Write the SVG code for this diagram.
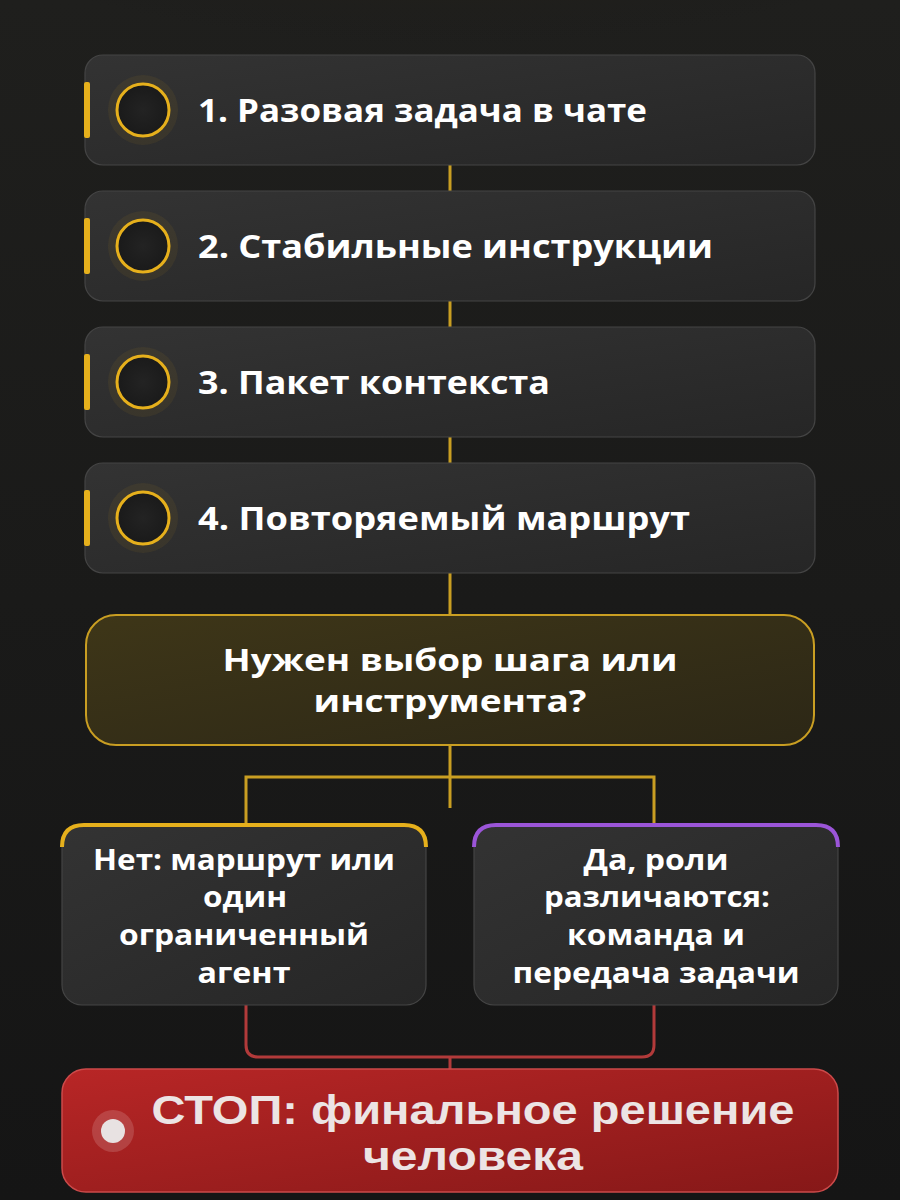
<svg xmlns="http://www.w3.org/2000/svg" width="900" height="1200" viewBox="0 0 900 1200">
<defs>
<radialGradient id="bgGlow" cx="0.5" cy="0" r="0.6">
<stop offset="0" stop-color="#3a3418"/>
<stop offset="0.6" stop-color="#2a2519"/>
<stop offset="1" stop-color="#1a1a1a" stop-opacity="0"/>
</radialGradient>
<linearGradient id="bgBase" x1="0" y1="0" x2="0" y2="1">
<stop offset="0" stop-color="#1f1f1d"/>
<stop offset="1" stop-color="#151515"/>
</linearGradient>
<linearGradient id="cardFill" x1="0" y1="0" x2="1" y2="1">
<stop offset="0" stop-color="#333333"/>
<stop offset="1" stop-color="#262626"/>
</linearGradient>
<linearGradient id="decFill" x1="0" y1="0" x2="1" y2="1">
<stop offset="0" stop-color="#3e3618"/>
<stop offset="1" stop-color="#2c2716"/>
</linearGradient>
<linearGradient id="stopFill" x1="0" y1="0" x2="1" y2="1">
<stop offset="0" stop-color="#b82626"/>
<stop offset="1" stop-color="#861818"/>
</linearGradient>
<radialGradient id="circFill" cx="0.5" cy="0.5" r="0.5">
<stop offset="0" stop-color="#232323"/>
<stop offset="1" stop-color="#1a1a1a"/>
</radialGradient>
</defs>
<style>
.card{fill:url(#cardFill);stroke:#444444;stroke-width:1.2}
.bar{fill:#e6b01c}
.ring{fill:url(#circFill);stroke:#e6b01c;stroke-width:3}
.halo{fill:#e6b01c;opacity:0.07}
.t{font-family:"Open Sans","Noto Sans",sans-serif;font-weight:700;fill:#ffffff}
.step{font-size:33px}
.dec{font-size:30px;text-anchor:middle}
.sub{font-size:28px;text-anchor:middle}
.stopt{font-family:"Liberation Sans","Noto Sans",sans-serif;font-size:40px;text-anchor:middle;fill:#ece4e4}
.cy{fill:none;stroke:#c99e22;stroke-width:3}
.cr{fill:none;stroke:#b23a3a;stroke-width:3}
</style>
<rect width="900" height="1200" fill="url(#bgBase)"/>
<ellipse cx="450" cy="0" rx="560" ry="230" fill="url(#bgGlow)" opacity="0.9"/>

<g id="connectors">
<line class="cy" x1="450" y1="165" x2="450" y2="191"/>
<line class="cy" x1="450" y1="301" x2="450" y2="327"/>
<line class="cy" x1="450" y1="437" x2="450" y2="463"/>
<line class="cy" x1="450" y1="573" x2="450" y2="614"/>
<line class="cy" x1="450" y1="745" x2="450" y2="808"/>
<path class="cy" d="M246 826 V777 H654 V826"/>
<path class="cr" d="M246 1005 V1045 Q246 1057 258 1057 H642 Q654 1057 654 1045 V1005"/>
<line class="cr" x1="450" y1="1057" x2="450" y2="1070"/>
</g>

<g id="step1">
<rect class="card" x="85" y="55" width="730" height="110" rx="18"/>
<rect class="bar" x="84" y="82" width="6" height="56" rx="2"/>
<circle class="halo" cx="143" cy="110" r="35"/>
<circle class="ring" cx="143" cy="110" r="26"/>
<text class="t step" x="198" y="122" textLength="449" lengthAdjust="spacingAndGlyphs">1. Разовая задача в чате</text>
</g>
<g id="step2">
<rect class="card" x="85" y="191" width="730" height="110" rx="18"/>
<rect class="bar" x="84" y="218" width="6" height="56" rx="2"/>
<circle class="halo" cx="143" cy="246" r="35"/>
<circle class="ring" cx="143" cy="246" r="26"/>
<text class="t step" x="198" y="258" textLength="515" lengthAdjust="spacingAndGlyphs">2. Стабильные инструкции</text>
</g>
<g id="step3">
<rect class="card" x="85" y="327" width="730" height="110" rx="18"/>
<rect class="bar" x="84" y="354" width="6" height="56" rx="2"/>
<circle class="halo" cx="143" cy="382" r="35"/>
<circle class="ring" cx="143" cy="382" r="26"/>
<text class="t step" x="198" y="394" textLength="352" lengthAdjust="spacingAndGlyphs">3. Пакет контекста</text>
</g>
<g id="step4">
<rect class="card" x="85" y="463" width="730" height="110" rx="18"/>
<rect class="bar" x="84" y="490" width="6" height="56" rx="2"/>
<circle class="halo" cx="143" cy="518" r="35"/>
<circle class="ring" cx="143" cy="518" r="26"/>
<text class="t step" x="198" y="530" textLength="492" lengthAdjust="spacingAndGlyphs">4. Повторяемый маршрут</text>
</g>

<g id="decision">
<rect x="86" y="615" width="728" height="130" rx="30" fill="url(#decFill)" stroke="#c99e22" stroke-width="2"/>
<text class="t dec" x="450" y="671" textLength="455" lengthAdjust="spacingAndGlyphs">Нужен выбор шага или</text>
<text class="t dec" x="450" y="712" textLength="273" lengthAdjust="spacingAndGlyphs">инструмента?</text>
</g>

<g id="no">
<rect class="card" x="62" y="825" width="364" height="180" rx="20"/>
<path d="M62 847 Q62 825 84 825 H404 Q426 825 426 847" fill="none" stroke="#e6b01c" stroke-width="4"/>
<text class="t sub" x="244" y="870" textLength="302" lengthAdjust="spacingAndGlyphs">Нет: маршрут или</text>
<text class="t sub" x="245" y="907" textLength="84" lengthAdjust="spacingAndGlyphs">один</text>
<text class="t sub" x="244" y="945" textLength="250" lengthAdjust="spacingAndGlyphs">ограниченный</text>
<text class="t sub" x="244" y="983" textLength="93" lengthAdjust="spacingAndGlyphs">агент</text>
</g>

<g id="yes">
<rect class="card" x="474" y="825" width="364" height="180" rx="20"/>
<path d="M474 847 Q474 825 496 825 H816 Q838 825 838 847" fill="none" stroke="#9b55d8" stroke-width="4"/>
<text class="t sub" x="656" y="870" textLength="145" lengthAdjust="spacingAndGlyphs">Да, роли</text>
<text class="t sub" x="657" y="907" textLength="226" lengthAdjust="spacingAndGlyphs">различаются:</text>
<text class="t sub" x="656" y="945" textLength="178" lengthAdjust="spacingAndGlyphs">команда и</text>
<text class="t sub" x="656" y="983" textLength="287" lengthAdjust="spacingAndGlyphs">передача задачи</text>
</g>

<g id="stop">
<rect x="62" y="1069" width="776" height="123" rx="24" fill="url(#stopFill)" stroke="#cc4a4a" stroke-width="1.5"/>
<circle cx="113" cy="1131" r="21" fill="#ffffff" opacity="0.15"/>
<circle cx="113" cy="1131" r="12" fill="#e8e2e2"/>
<text class="t stopt" x="473" y="1124" textLength="643" lengthAdjust="spacingAndGlyphs">СТОП: финальное решение</text>
<text class="t stopt" x="473" y="1170" textLength="220" lengthAdjust="spacingAndGlyphs">человека</text>
</g>
</svg>
